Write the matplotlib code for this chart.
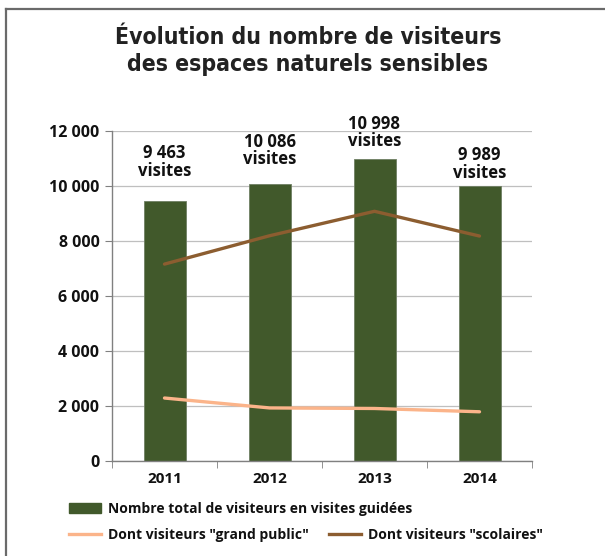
import matplotlib
matplotlib.use("Agg")
import matplotlib.pyplot as plt
from matplotlib.lines import Line2D
from matplotlib.patches import Patch
import numpy as np

years = ["2011", "2012", "2013", "2014"]
total_visitors = [9463, 10086, 10998, 9989]
grand_public = [2290, 1930, 1910, 1790]
scolaires = [7160, 8190, 9080, 8180]
bar_labels = ["9 463\nvisites", "10 086\nvisites", "10 998\nvisites", "9 989\nvisites"]
y_ticks = [0, 2000, 4000, 6000, 8000, 10000, 12000]
y_tick_labels = ["0", "2 000", "4 000", "6 000", "8 000", "10 000", "12 000"]

BAR_GREEN = "#41592B"
PEACH = "#FBB48A"
BROWN = "#8C5D30"
TXT = "#111111"
FONT = ["Open Sans", "DejaVu Sans"]

fig = plt.figure(figsize=(6.05, 5.56), dpi=100)
ax = fig.add_axes([112 / 605, 1 - 461 / 556, 420 / 605, 330 / 556])

x = np.arange(len(years))
ax.bar(x, total_visitors, width=0.4, color=BAR_GREEN, edgecolor="#6f7f63",
       linewidth=0.6, zorder=2)
ax.plot(x, grand_public, color=PEACH, lw=2.4, zorder=3, solid_capstyle="round")
ax.plot(x, scolaires, color=BROWN, lw=2.4, zorder=3, solid_capstyle="round")

# value labels placed above each bar (offsets in points)
label_offsets = [28, 24, 19, 16]
for xi, v, lab, off in zip(x, total_visitors, bar_labels, label_offsets):
    ax.annotate(lab, (xi, v), xytext=(0, off), textcoords="offset points",
                ha="center", va="center", fontsize=12, fontweight="bold",
                family=FONT, color=TXT, linespacing=0.95)

ax.set_xlim(-0.5, len(years) - 0.5)
ax.set_ylim(0, 12000)
ax.set_yticks(y_ticks)
ax.set_yticklabels(y_tick_labels, fontsize=11.5, fontweight="bold", family=FONT, color=TXT)
ax.set_xticks(x)
ax.set_xticklabels(years, fontsize=11, fontweight="bold", family=FONT, color=TXT)
ax.tick_params(axis="x", length=0, pad=8)
ax.set_xticks(np.arange(-0.5, len(years)), minor=True)
ax.tick_params(axis="x", which="minor", length=5, color="#808080", direction="out")
ax.tick_params(axis="y", length=5, color="#808080", pad=4)

ax.grid(axis="y", color="#BFBFBF", lw=0.9, zorder=0)
ax.set_axisbelow(True)
for s in ["top", "right"]:
    ax.spines[s].set_visible(False)
for s in ["left", "bottom"]:
    ax.spines[s].set_color("#808080")
    ax.spines[s].set_linewidth(1.0)

fig.text(308 / 605, 1 - 51 / 556, "Évolution du nombre de visiteurs\ndes espaces naturels sensibles",
         ha="center", va="center", fontsize=16.5, fontweight="bold", fontstretch="condensed",
         family=["DejaVu Sans"], color="#222222", linespacing=1.22)

# legend rows
legend_font = {"family": FONT, "weight": "bold", "size": 10}
h1 = [Patch(facecolor=BAR_GREEN, edgecolor=BAR_GREEN)]
leg1 = fig.legend(h1, ["Nombre total de visiteurs en visites guidées"],
                  loc="center left", bbox_to_anchor=(69 / 605, 1 - 509 / 556),
                  frameon=False, borderpad=0, borderaxespad=0, handlelength=2.3,
                  handleheight=0.65, handletextpad=0.5, prop=legend_font)
h2 = [Line2D([], [], color=PEACH, lw=2.4), Line2D([], [], color=BROWN, lw=2.4)]
leg2 = fig.legend(h2, ['Dont visiteurs "grand public"', 'Dont visiteurs "scolaires"'],
                  loc="center left", bbox_to_anchor=(69 / 605, 1 - 535 / 556), ncol=2,
                  frameon=False, borderpad=0, borderaxespad=0, handlelength=2.3,
                  handletextpad=0.5, columnspacing=1.45, prop=legend_font)
for lg in (leg1, leg2):
    for t in lg.get_texts():
        t.set_color(TXT)

# frame lines on the left and top of the figure
fig.add_artist(Line2D([6 / 605, 6 / 605], [0, 1 - 9 / 556], transform=fig.transFigure,
                      color="#6a6a6a", lw=1.6))
fig.add_artist(Line2D([6 / 605, 1], [1 - 9 / 556, 1 - 9 / 556], transform=fig.transFigure,
                      color="#6a6a6a", lw=1.6))

fig.savefig("out.png", dpi=100)
